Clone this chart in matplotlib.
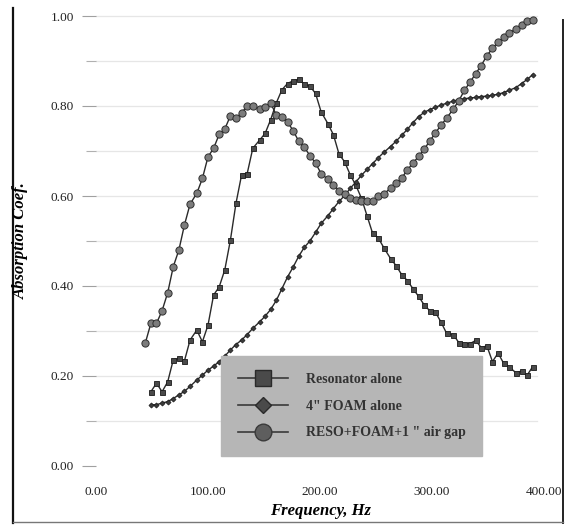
import matplotlib
matplotlib.use("Agg")
import matplotlib.pyplot as plt
from matplotlib.lines import Line2D
from matplotlib.ticker import MultipleLocator, FormatStrFormatter

plt.rcParams['font.family'] = ['Liberation Serif', 'DejaVu Serif']

# frequency grid (Hz)
freq = [44, 49, 54, 59, 64, 69, 74, 79, 84, 90,
        95, 100, 105, 110, 115, 120, 125, 130, 135, 140,
        146, 151, 156, 161, 166, 171, 176, 181, 186, 191,
        196, 201, 207, 212, 217, 222, 227, 232, 237, 242,
        247, 252, 257, 263, 268, 273, 278, 283, 288, 293,
        298, 303, 308, 313, 319, 324, 329, 334, 339, 344,
        349, 354, 359, 364, 369, 375, 380, 385, 390]

# Resonator alone (starts at second frequency)
resonator = [0.165, 0.184, 0.165, 0.187, 0.236, 0.239, 0.234, 0.280, 0.302, 0.276,
             0.313, 0.380, 0.398, 0.436, 0.502, 0.584, 0.647, 0.650, 0.706, 0.724,
             0.739, 0.770, 0.807, 0.836, 0.850, 0.856, 0.859, 0.849, 0.844, 0.828,
             0.787, 0.761, 0.736, 0.693, 0.676, 0.647, 0.624, 0.595, 0.556, 0.517,
             0.507, 0.485, 0.461, 0.445, 0.425, 0.412, 0.394, 0.377, 0.358, 0.345,
             0.342, 0.320, 0.295, 0.292, 0.274, 0.272, 0.272, 0.279, 0.263, 0.267,
             0.232, 0.251, 0.228, 0.220, 0.207, 0.211, 0.202, 0.221]

# 4" FOAM alone (starts at second frequency)
foam = [0.136, 0.136, 0.140, 0.143, 0.150, 0.158, 0.166, 0.177, 0.191, 0.202,
        0.213, 0.222, 0.232, 0.244, 0.258, 0.270, 0.280, 0.292, 0.306, 0.320,
        0.333, 0.348, 0.368, 0.394, 0.420, 0.442, 0.466, 0.486, 0.500, 0.519,
        0.539, 0.556, 0.572, 0.588, 0.601, 0.617, 0.631, 0.646, 0.659, 0.672,
        0.685, 0.697, 0.710, 0.722, 0.735, 0.748, 0.763, 0.776, 0.786, 0.792,
        0.797, 0.802, 0.806, 0.811, 0.814, 0.816, 0.818, 0.819, 0.821, 0.822,
        0.824, 0.826, 0.830, 0.835, 0.841, 0.850, 0.859, 0.870]

# RESO+FOAM+1" air gap
combo = [0.273, 0.317, 0.317, 0.345, 0.385, 0.443, 0.480, 0.536, 0.582, 0.606,
         0.639, 0.687, 0.706, 0.737, 0.749, 0.778, 0.774, 0.784, 0.801, 0.800,
         0.793, 0.798, 0.806, 0.780, 0.776, 0.765, 0.745, 0.722, 0.708, 0.690,
         0.673, 0.650, 0.637, 0.625, 0.612, 0.604, 0.596, 0.592, 0.590, 0.588,
         0.588, 0.600, 0.604, 0.618, 0.628, 0.640, 0.658, 0.673, 0.688, 0.704,
         0.722, 0.740, 0.757, 0.773, 0.793, 0.812, 0.835, 0.853, 0.872, 0.890,
         0.912, 0.928, 0.942, 0.953, 0.962, 0.972, 0.981, 0.988, 0.991]

labels = ['Resonator alone', '4" FOAM alone', 'RESO+FOAM+1 " air gap']

W, H = 566, 525
fig = plt.figure(figsize=(W / 100, H / 100), dpi=100)
ax = fig.add_axes([96 / W, (H - 475) / H, 448 / W, 468 / H])

line_c = '#2a2a2a'
ax.plot(freq[1:], resonator, color=line_c, lw=1.0, marker='s', ms=3.6,
        mfc='#4a4a4a', mec='#1a1a1a', mew=0.6, zorder=3)
ax.plot(freq[1:], foam, color=line_c, lw=1.0, marker='D', ms=2.6,
        mfc='#3a3a3a', mec='#1a1a1a', mew=0.5, zorder=3)
ax.plot(freq, combo, color=line_c, lw=1.0, marker='o', ms=5.2,
        mfc='#7c7c7c', mec='#303030', mew=0.7, zorder=4)

ax.set_xlim(0, 400)
ax.set_ylim(-0.02, 1.02)
ax.set_xticks([0, 100, 200, 300, 400])
ax.xaxis.set_major_formatter(FormatStrFormatter('%.2f'))
ax.yaxis.set_major_locator(MultipleLocator(0.2))
ax.yaxis.set_minor_locator(MultipleLocator(0.1))
ax.yaxis.set_major_formatter(FormatStrFormatter('%.2f'))
ax.set_yticks([0.0, 0.2, 0.4, 0.6, 0.8, 1.0])

for s in ax.spines.values():
    s.set_visible(False)

ax.tick_params(axis='x', length=0, pad=8, labelsize=9.5, labelcolor='#222')
ax.tick_params(axis='y', which='major', length=10, width=0.8, color='#a0a0a0',
               pad=6, labelsize=9.5, labelcolor='#222')
ax.tick_params(axis='y', which='minor', length=7, width=0.8, color='#b0b0b0')

for v in [0.1, 0.2, 0.3, 0.4, 0.5, 0.6, 0.7, 0.8, 0.9, 1.0]:
    ax.axhline(v, xmin=0.0, xmax=0.985, color='#e6e6e6', lw=0.9, zorder=0)

fig.text(321 / W, 1 - 511 / H, 'Frequency, Hz', ha='center', va='center',
         fontsize=12, fontweight='bold', style='italic')
fig.text(21 / W, 1 - 241 / H, 'Absorption Coef.', ha='center', va='center',
         rotation=90, fontsize=12, fontweight='bold', style='italic')

handles = [
    Line2D([], [], color='#3a3a3a', lw=1.2, marker='s', ms=12,
           mfc='#4a4a4a', mec='#2a2a2a'),
    Line2D([], [], color='#3a3a3a', lw=1.2, marker='D', ms=8.5,
           mfc='#4a4a4a', mec='#2a2a2a'),
    Line2D([], [], color='#3a3a3a', lw=1.2, marker='o', ms=12,
           mfc='#5e5e5e', mec='#3a3a3a'),
]
leg = fig.legend(handles, labels, loc='upper left',
                 bbox_to_anchor=(221 / W, 1 - 356 / H),
                 frameon=True, fancybox=False, framealpha=1,
                 facecolor='#b6b6b6', edgecolor='#b6b6b6',
                 prop={'weight': 'bold', 'size': 10},
                 handlelength=3.6, handletextpad=1.3, labelspacing=1.0,
                 borderpad=1.2, borderaxespad=0)
for t in leg.get_texts():
    t.set_color('#333333')

# scanned frame edges
fig.add_artist(Line2D([13 / W, 13 / W], [1 - 8 / H, 1 - 523 / H],
                      color='#111111', lw=1.6))
fig.add_artist(Line2D([563 / W, 563 / W], [1 - 20 / H, 1 - 523 / H],
                      color='#222222', lw=1.4))
fig.add_artist(Line2D([13 / W, 563 / W], [1 - 522 / H, 1 - 522 / H],
                      color='#777777', lw=1.0))

fig.savefig('out.png', dpi=100)
